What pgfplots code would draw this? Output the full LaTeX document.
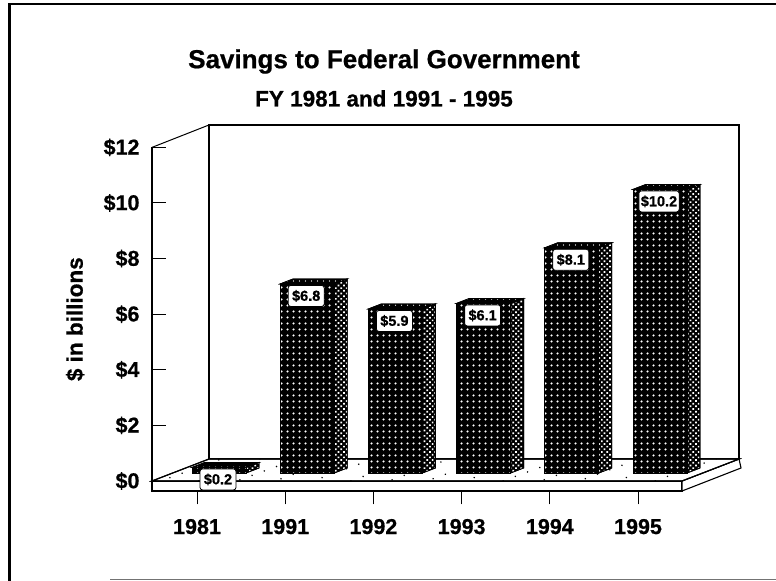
\documentclass[border=0pt]{standalone}
\usepackage{fontspec}
\setmainfont{Liberation Sans}[BoldFeatures={FakeBold=0.7}]
\usepackage{pgfplots}
\usepackage{pgfplotstable}
\pgfplotsset{compat=1.18}
\usetikzlibrary{patterns.meta}

% Savings by fiscal year, in billions of dollars
\pgfplotstableread{
pos value
0   0.2
1   6.8
2   5.9
3   6.1
4   8.1
5   10.2
}\savings

% Face textures of the columns
\tikzset{
  frontface/.style={draw=black, line width=.8bp, fill=black,
    postaction={pattern={Dots[radius=1.35bp,distance=6bp]}, pattern color=white}},
  sideface/.style={draw=black, line width=.8bp, fill=black,
    postaction={pattern={Dots[radius=1.2bp,distance=3.8bp,angle=45]}, pattern color=white}},
  topface/.style={draw=black, line width=.8bp, fill=black,
    postaction={pattern={Dots[radius=.7bp,distance=6bp]}, pattern color=white}},
}

% Side and top faces of one column: #1 category position, #2 value
\newcommand\columndepth[2]{%
  \pgfmathsetmacro\xr{#1+27/88.2}%
  \pgfmathsetmacro\xl{#1-27/88.2}%
  \pgfmathsetmacro\xrb{#1+40/88.2}%
  \pgfmathsetmacro\xlb{#1-14/88.2}%
  \pgfmathsetmacro\dy{5/27.8}%
  \pgfmathsetmacro\yt{#2+5/27.8}%
  \addplot[sideface, xshift=22bp, yshift=8bp] coordinates
    {(\xr,0) (\xrb,\dy) (\xrb,\yt) (\xr,#2)} --cycle;
  \addplot[topface, xshift=22bp, yshift=8bp] coordinates
    {(\xl,#2) (\xlb,\yt) (\xrb,\yt) (\xr,#2)} --cycle;
}

\begin{document}
\begin{tikzpicture}[x=1bp,y=1bp]
\path[use as bounding box] (0,0) rectangle (776,581);

% page frame
\draw[line width=3bp] (9.5,0) -- (9.5,577);
\draw[line width=2.5bp] (8,577) -- (776,577);
\draw[line width=1.2bp, black!55] (110,1.2) -- (776,1.2);

\begin{axis}[
  at={(152bp,90bp)}, anchor=south west,
  x=88.2bp, y=27.8bp,
  xmin=-0.5102, xmax=5.499, ymin=-0.36, ymax=12,
  clip=false,
  axis lines=left,
  axis line style={-, line width=1.1bp, black},
  xtick={0,...,5},
  xticklabels={1981,1991,1992,1993,1994,1995},
  ytick={0,2,...,12},
  yticklabels={\$0,\$2,\$4,\$6,\$8,\$10,\$12},
  major tick length=13.5bp,
  xtick align=outside, ytick align=inside,
  tick style={black, line width=1bp},
  ticklabel style={font=\fontsize{21.5bp}{25bp}\selectfont\bfseries},
  xticklabel style={yshift=-11bp},
  yticklabel style={xshift=-9bp},
  title={\fontsize{26bp}{30bp}\selectfont\bfseries Savings to Federal Government},
  title style={at={(axis description cs:0.4377,1.2587)}, anchor=center, yshift=-9bp},
  ylabel={\fontsize{22.5bp}{26bp}\selectfont\bfseries \$ in billions},
  every axis y label/.style={at={(axis description cs:-0.145,0.5)}, rotate=90, anchor=center},
]

% back wall and left wall
\addplot[draw=black, line width=1.1bp, fill=white] coordinates
  {(0.1361,0.791) (0.1361,12.806) (6.145,12.806) (6.145,0.791)} --cycle;
\addplot[draw=black, line width=1bp] coordinates
  {(-0.5102,12) (0.1361,12.806)};

% floor slab: front edge, right edge and speckled top
\addplot[draw=black, line width=1.1bp, fill=white] coordinates
  {(-0.5102,-0.36) (-0.5102,0) (5.499,0) (5.499,-0.36)} --cycle;
\addplot[draw=black, line width=1.1bp, fill=white] coordinates
  {(5.499,-0.36) (5.499,0) (6.145,0.791) (6.168,0.468)} --cycle;
\addplot[draw=black, line width=1.1bp, fill=white,
  postaction={pattern={Dots[radius=.85bp,distance=13bp,angle=20]}, pattern color=black}]
  coordinates {(-0.5102,0) (0.1361,0.791) (6.145,0.791) (5.499,0)} --cycle;

% columns
\columndepth{0}{0.2}
\columndepth{1}{6.8}
\columndepth{2}{5.9}
\columndepth{3}{6.1}
\columndepth{4}{8.1}
\columndepth{5}{10.2}
\addplot[ybar, bar width=54bp, bar shift=22bp, yshift=8bp, frontface]
  table[x=pos, y=value] {\savings};

% value labels
\addplot[only marks, mark=none, point meta=y,
  nodes near coords={\$\pgfmathprintnumber[fixed,fixed zerofill,precision=1,assume math mode=true]{\pgfplotspointmeta}},
  nodes near coords style={anchor=center, xshift=21bp, yshift=-4bp, fill=white,
    draw=black, line width=.8bp,
    rounded corners=2.5bp, inner sep=2bp, minimum height=21bp, minimum width=36bp,
    text=black, font=\fontsize{14.5bp}{17bp}\selectfont\bfseries}]
  table[x=pos, y=value] {\savings};

\node[font=\fontsize{22.5bp}{26bp}\selectfont\bfseries, anchor=center]
  at (axis description cs:0.4377,1.1424) {FY 1981 and 1991 - 1995};
\end{axis}
\end{tikzpicture}
\end{document}
